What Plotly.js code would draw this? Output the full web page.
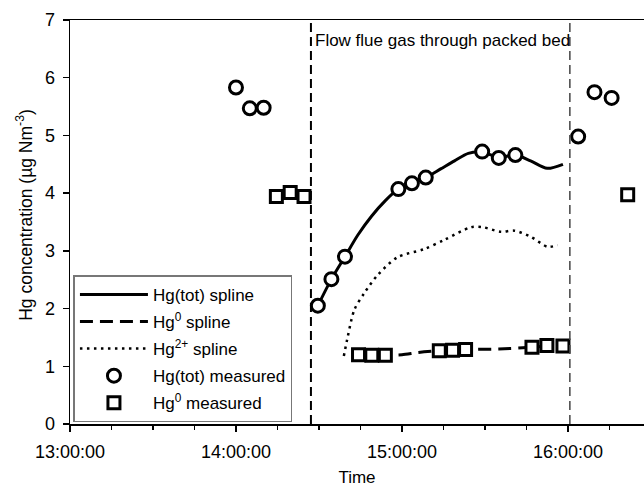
<!DOCTYPE html>
<html>
<head>
<meta charset="utf-8">
<script src="https://cdn.plot.ly/plotly-3.0.1.min.js"></script>
<style>html,body{margin:0;padding:0;background:#fff;}#chart{width:644px;height:487px;}</style>
</head>
<body>
<div id="chart"></div>
<script>
// ---- data (times of day, values in µg Nm^-3) ----
const totMeasTimes = ["14:00:00","14:05:00","14:10:00","14:29:36","14:34:30","14:39:24","14:58:42","15:03:36","15:08:36","15:29:00","15:35:00","15:41:00","16:03:42","16:09:36","16:15:48"];
const totMeasVals  = [5.83, 5.47, 5.48, 2.05, 2.51, 2.90, 4.07, 4.17, 4.27, 4.72, 4.61, 4.66, 4.98, 5.75, 5.65];

const hg0MeasTimes = ["14:14:36","14:19:36","14:24:36","14:44:18","14:49:06","14:54:00","15:13:30","15:18:18","15:23:00","15:47:00","15:52:24","15:58:12","16:21:36"];
const hg0MeasVals  = [3.94, 4.01, 3.94, 1.20, 1.19, 1.19, 1.27, 1.28, 1.29, 1.33, 1.36, 1.35, 3.97];

const totSplineTimes = ["14:29:36","14:34:30","14:39:24","14:44:00","14:49:00","14:54:00","14:58:42","15:03:36","15:08:36","15:14:00","15:19:00","15:24:00","15:29:00","15:35:00","15:41:00","15:46:30","15:52:30","15:58:12"];
const totSplineVals  = [2.05, 2.51, 2.90, 3.27, 3.60, 3.87, 4.07, 4.17, 4.27, 4.42, 4.56, 4.69, 4.71, 4.62, 4.66, 4.56, 4.43, 4.50];

const hg0SplineTimes = ["14:44:18","14:49:06","14:54:00","15:00:00","15:06:00","15:13:30","15:23:00","15:35:00","15:47:00","15:52:24","15:58:12"];
const hg0SplineVals  = [1.20, 1.19, 1.19, 1.20, 1.24, 1.27, 1.29, 1.30, 1.33, 1.35, 1.35];

const hg2SplineTimes = ["14:39:00","14:40:24","14:42:48","14:46:24","14:51:12","14:58:24","15:08:00","15:15:18","15:25:00","15:29:12","15:35:48","15:40:36","15:46:42","15:52:42","15:56:18"];
const hg2SplineVals  = [1.18, 1.51, 1.98, 2.27, 2.58, 2.89, 3.03, 3.19, 3.41, 3.41, 3.33, 3.35, 3.24, 3.07, 3.10];

const phaseBounds = ["14:27:06","16:00:42"];
const phaseLabel = "Flow flue gas through packed bed";
const xTitle = "Time";
const yTitle = "Hg concentration (µg Nm<sup>-3</sup>)";
const xRange = ["13:00:00","16:27:30"];
const yRange = [0, 7];

const day = "2000-01-01 ";
const d = t => day + t;
const ds = arr => arr.map(d);

const FONT = "Liberation Sans, Arial, sans-serif";

const traces = [
  {x: ds(totSplineTimes), y: totSplineVals, mode: "lines", name: "Hg(tot) spline", legendgroup: "a",
   line: {color: "black", width: 3, shape: "spline", smoothing: 0.8}},
  {x: ds(hg0SplineTimes), y: hg0SplineVals, mode: "lines", name: "Hg<sup>0</sup> spline", legendgroup: "b",
   line: {color: "black", width: 3, dash: "13px,7px", shape: "spline", smoothing: 0.8}},
  {x: ds(hg2SplineTimes), y: hg2SplineVals, mode: "lines", name: "Hg<sup>2+</sup> spline", legendgroup: "c",
   line: {color: "black", width: 2.5, dash: "2.5px,4.5px", shape: "spline", smoothing: 0.8}},
  {x: ds(totMeasTimes), y: totMeasVals, mode: "markers", name: "Hg(tot) measured", legendgroup: "d",
   marker: {symbol: "circle", size: 13, color: "white", line: {color: "black", width: 3}}},
  {x: ds(hg0MeasTimes), y: hg0MeasVals, mode: "markers", name: "Hg<sup>0</sup> measured", legendgroup: "e",
   marker: {symbol: "square", size: 12, color: "white", line: {color: "black", width: 3}}}
];

const layout = {
  width: 644, height: 487,
  margin: {l: 70, r: 0, t: 20, b: 63},
  paper_bgcolor: "white", plot_bgcolor: "white",
  font: {family: FONT, size: 17, color: "black"},
  showlegend: true,
  legend: {x: 0.006, y: 0.368, xanchor: "left", yanchor: "top",
    bgcolor: "white", bordercolor: "#777", borderwidth: 1.5,
    font: {family: FONT, size: 17, color: "black"}, itemwidth: 68, tracegroupgap: 2},
  xaxis: {
    type: "date", range: ds(xRange),
    tickformat: "%H:%M:%S", dtick: 3600000, tick0: d("13:00:00"),
    ticks: "outside", ticklen: 6, tickwidth: 1.5, tickcolor: "black", ticklabelstandoff: 5,
    minor: {dtick: 900000, ticks: "outside", ticklen: 4, tickwidth: 1.5, tickcolor: "black", showgrid: false},
    showline: true, linecolor: "black", linewidth: 1.5, mirror: true,
    showgrid: false, zeroline: false,
    tickfont: {family: FONT, size: 18, color: "black"},
    title: {text: xTitle, font: {family: FONT, size: 17, color: "black"}, standoff: 13}
  },
  yaxis: {
    range: yRange, dtick: 1, tick0: 0,
    ticks: "outside", ticklen: 6, tickwidth: 1.5, tickcolor: "black", ticklabelstandoff: 4,
    showline: true, linecolor: "black", linewidth: 1.5,
    showgrid: false, zeroline: false,
    tickfont: {family: FONT, size: 18, color: "black"}
  },
  shapes: [
    {type: "line", xref: "x", yref: "y", x0: d(phaseBounds[0]), x1: d(phaseBounds[0]), y0: yRange[0], y1: yRange[1],
     line: {color: "black", width: 2, dash: "9px,5px"}},
    {type: "line", xref: "x", yref: "y", x0: d(phaseBounds[1]), x1: d(phaseBounds[1]), y0: yRange[0], y1: yRange[1],
     line: {color: "#444", width: 1.5, dash: "9px,5px"}}
  ],
  annotations: [
    {x: d(phaseBounds[0]), y: 6.64, xref: "x", yref: "y", text: phaseLabel, showarrow: false,
     xanchor: "left", yanchor: "middle", xshift: 2, font: {family: FONT, size: 17, color: "black"}},
    {x: -0.08, y: 0.518, xref: "paper", yref: "paper", text: yTitle, showarrow: false, textangle: -90,
     xanchor: "center", yanchor: "middle", font: {family: FONT, size: 17.5, color: "black"}}
  ]
};

Plotly.newPlot("chart", traces, layout, {displayModeBar: false, staticPlot: true});
</script>
</body>
</html>
